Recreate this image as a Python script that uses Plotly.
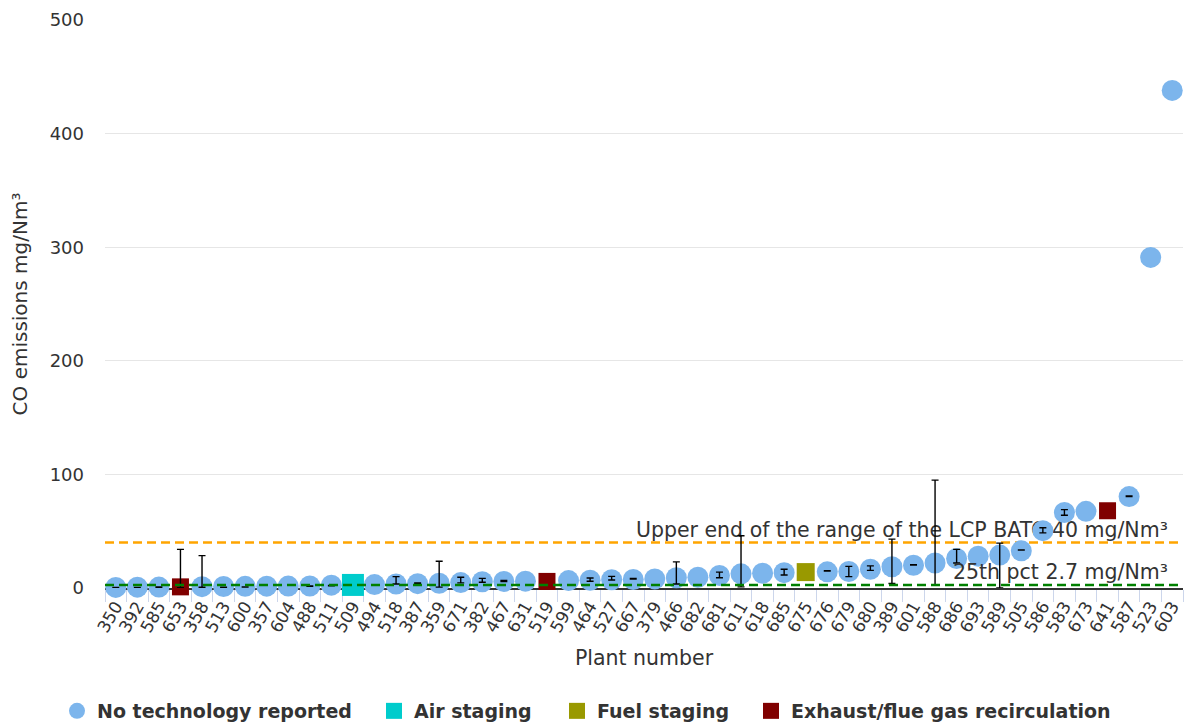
import plotly.graph_objects as go

# Plants ordered by measured CO concentration
plants = ["350", "392", "585", "653", "358", "513", "600", "357", "604", "488",
          "511", "509", "494", "518", "387", "359", "671", "382", "467", "631",
          "519", "599", "464", "527", "667", "379", "466", "682", "681", "611",
          "618", "685", "675", "676", "679", "680", "389", "601", "588", "686",
          "693", "589", "505", "586", "583", "673", "641", "587", "523", "603"]

co_values = [0.5, 0.7, 0.8, 1.0, 1.2, 1.3, 1.5, 1.6, 1.7, 1.8,
             2.5, 2.7, 3.0, 3.5, 3.8, 4.2, 4.8, 5.5, 5.8, 6.0,
             5.8, 6.5, 6.8, 7.3, 7.5, 8.0, 9.0, 9.5, 11.0, 12.5,
             13.0, 13.5, 14.0, 14.2, 14.5, 16.5, 18.7, 20.0, 22.0, 26.0,
             28.0, 29.0, 32.7, 50.5, 66.5, 67.5, 68.0, 80.5, 291.0, 438.0]

# Abatement technology reported per plant (others: nothing reported)
technology = {"653": "Exhaust/flue gas recirculation",
              "509": "Air staging",
              "519": "Exhaust/flue gas recirculation",
              "675": "Fuel staging",
              "641": "Exhaust/flue gas recirculation"}

# Min / max of the reported concentration range
err_plants = ["350", "392", "585", "653", "358", "513", "600", "488", "511", "518",
              "387", "359", "671", "382", "467", "464", "527", "667", "466", "681",
              "611", "685", "676", "679", "680", "389", "601", "588", "686", "589",
              "505", "586", "583", "587"]
err_low = [0.2, 0.3, 0.6, 0.3, 0.6, 0.5, 0.8, 1.6, 2.0, 3.5,
           4.2, 0.8, 4.5, 5.0, 5.6, 6.0, 7.0, 7.8, 3.5, 9.0,
           1.0, 11.5, 15.0, 10.0, 15.5, 4.0, 20.3, 3.0, 22.0, 0.0,
           33.3, 48.5, 64.0, 80.6]
err_high = [0.4, 0.5, 0.9, 34.0, 28.5, 0.8, 1.0, 1.8, 2.3, 10.0,
            4.4, 23.5, 9.5, 8.5, 6.6, 8.8, 10.2, 8.4, 23.0, 14.0,
            46.0, 16.5, 15.3, 19.0, 19.5, 43.0, 20.6, 95.0, 34.0, 39.5,
            33.6, 53.0, 69.0, 81.0]

bat_upper = 40
pct_25 = 2.7

series = [
    ("No technology reported", "circle", "#7cb5ec", 21),
    ("Air staging", "square", "#00cccc", 22),
    ("Fuel staging", "square", "#999900", 18),
    ("Exhaust/flue gas recirculation", "square", "#800000", 17),
]

FONT = "DejaVu Sans"
W, H = 1192, 724
fig = go.Figure()

# left edge (px) of each legend entry
legend_x = [57, 374, 557, 751]
for i, (name, symbol, color, size) in enumerate(series):
    xs, ys = [], []
    for p, v in zip(plants, co_values):
        if technology.get(p, "No technology reported") == name:
            xs.append(p)
            ys.append(v)
    lg = "legend" if i == 0 else f"legend{i + 1}"
    fig.add_trace(go.Scatter(
        x=xs, y=ys, mode="markers", name=name, legend=lg,
        marker=dict(symbol=symbol, color=color, size=size, line=dict(width=0)),
        cliponaxis=False,
    ))

# Range bars drawn over the markers
fig.add_trace(go.Scatter(
    x=err_plants, y=err_low, mode="markers", showlegend=False, hoverinfo="skip",
    marker=dict(size=1, color="rgba(0,0,0,0)"),
    error_y=dict(type="data", symmetric=False,
                 array=[h - l for h, l in zip(err_high, err_low)],
                 arrayminus=[0] * len(err_low),
                 color="#000000", thickness=1.4, width=3.5),
    cliponaxis=False,
))

# Reference levels
dash = "9px,5px"
fig.add_shape(type="line", xref="paper", x0=0, x1=1, yref="y", y0=bat_upper, y1=bat_upper,
              line=dict(color="#ffa500", width=2.5, dash=dash), layer="below")
fig.add_shape(type="line", xref="paper", x0=0, x1=0.986, yref="y", y0=bat_upper, y1=bat_upper,
              line=dict(color="rgba(0,0,0,0)", width=1), layer="below",
              label=dict(text=f"Upper end of the range of the LCP BATC {bat_upper} mg/Nm³",
                         textposition="end", yanchor="bottom", padding=2,
                         font=dict(family=FONT, size=20.5, color="#333333")))
fig.add_shape(type="line", xref="paper", x0=0, x1=1, yref="y", y0=pct_25, y1=pct_25,
              line=dict(color="#008000", width=2.5, dash=dash), layer="above")
fig.add_shape(type="line", xref="paper", x0=0, x1=0.986, yref="y", y0=pct_25, y1=pct_25,
              line=dict(color="rgba(0,0,0,0)", width=1), layer="above",
              label=dict(text=f"25th pct {pct_25} mg/Nm³",
                         textposition="end", yanchor="bottom", padding=2,
                         font=dict(family=FONT, size=20.5, color="#333333")))

legend_common = dict(orientation="h", xref="container", yref="container",
                     xanchor="left", yanchor="middle", y=1 - 711 / H,
                     bgcolor="rgba(0,0,0,0)", borderwidth=0,
                     font=dict(family=FONT, size=19, color="#333333", weight="bold"),
                     itemsizing="trace")
layout_legends = {}
for i, lx in enumerate(legend_x):
    key = "legend" if i == 0 else f"legend{i + 1}"
    layout_legends[key] = dict(legend_common, x=lx / W)

fig.update_layout(
    width=W, height=H,
    margin=dict(l=105, r=9, t=17, b=136),
    paper_bgcolor="white", plot_bgcolor="white",
    font=dict(family=FONT, color="#333333"),
    showlegend=True,
    **layout_legends,
)

fig.update_xaxes(
    type="category", categoryorder="array", categoryarray=plants,
    range=[-0.5, len(plants) - 0.5],
    showgrid=False, zeroline=False,
    showline=True, linecolor="#333333", linewidth=1.5,
    ticks="outside", tickson="boundaries", ticklen=12, tickcolor="#ccd6eb", tickwidth=1,
    tickangle=-60, tickfont=dict(family=FONT, size=17, color="#333333"),
    title=dict(text="Plant number", font=dict(family=FONT, size=20.5, color="#333333"), standoff=16),
    layer="below traces",
)
fig.update_yaxes(
    range=[0, 500], dtick=100,
    showgrid=True, gridcolor="#e6e6e6", gridwidth=1, zeroline=False, showline=False,
    tickfont=dict(family=FONT, size=18, color="#333333"),
    ticklabelstandoff=20,
    title=dict(text="CO emissions mg/Nm³", font=dict(family=FONT, size=20, color="#333333"), standoff=16),
)

fig.write_html("out.html")
